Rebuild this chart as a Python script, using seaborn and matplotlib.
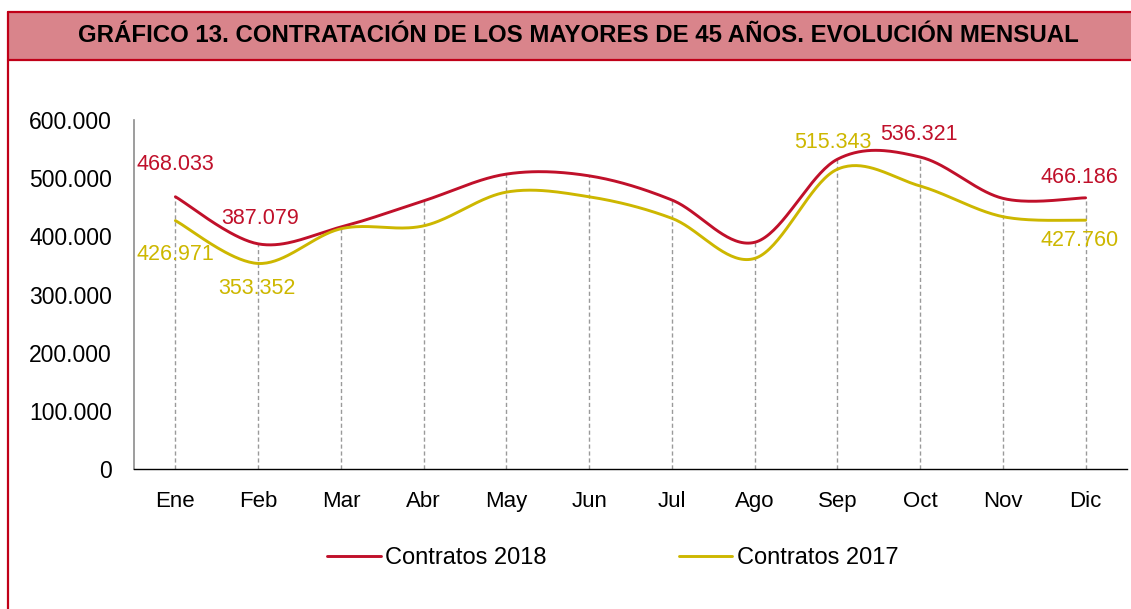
import numpy as np
import pandas as pd
import matplotlib
matplotlib.use("Agg")
import matplotlib.pyplot as plt
from matplotlib.patches import Rectangle
from matplotlib.lines import Line2D
from matplotlib.ticker import FuncFormatter
import seaborn as sns

months = ['Ene', 'Feb', 'Mar', 'Abr', 'May', 'Jun', 'Jul', 'Ago', 'Sep', 'Oct', 'Nov', 'Dic']
contratos_2018 = [468033, 387079, 416000, 461000, 507000, 504000, 462500, 389700, 532500, 536321, 465300, 466186]
contratos_2017 = [426971, 353352, 413000, 418000, 476000, 468000, 431000, 362000, 515343, 486500, 433800, 427760]
series_names = ['Contratos 2018', 'Contratos 2017']
title = 'GRÁFICO 13. CONTRATACIÓN DE LOS MAYORES DE 45 AÑOS. EVOLUCIÓN MENSUAL'

RED = '#C0102A'
YELLOW = '#CDB700'
PINK = '#D9848B'
BORDER = '#C00018'


def smooth(vals, n=40):
    # excel-like smoothed line (catmull-rom as cubic bezier)
    p = np.array(vals, dtype=float)
    x = np.arange(len(p), dtype=float)
    pts = np.column_stack([x, p])
    ext = np.vstack([pts[0], pts, pts[-1]])
    out = []
    t = np.linspace(0, 1, n)[:, None]
    for i in range(len(pts) - 1):
        p0, p1, p2, p3 = ext[i], ext[i + 1], ext[i + 2], ext[i + 3]
        b0 = p1
        b1 = p1 + (p2 - p0) / 6
        b2 = p2 - (p3 - p1) / 6
        b3 = p2
        seg = ((1 - t) ** 3) * b0 + 3 * ((1 - t) ** 2) * t * b1 + 3 * (1 - t) * t ** 2 * b2 + t ** 3 * b3
        out.append(seg if i == 0 else seg[1:])
    out = np.vstack(out)
    return out[:, 0], out[:, 1]


sns.set_style("white")
plt.rcParams['font.family'] = ['Liberation Sans', 'DejaVu Sans']
plt.rcParams['text.color'] = 'black'

fig = plt.figure(figsize=(11.31, 6.09), dpi=100)
W, H = 1131, 609

# frame and title band
fig.patches.append(Rectangle((8 / W, 1 - 60 / H), 1 - 8 / W, 48 / H, transform=fig.transFigure,
                             facecolor=PINK, edgecolor='none', zorder=0))
for xs, ys in [([8 / W, 1], [1 - 12 / H, 1 - 12 / H]),
               ([8 / W, 1], [1 - 60 / H, 1 - 60 / H]),
               ([8 / W, 8 / W], [0, 1 - 12 / H])]:
    fig.lines.append(Line2D(xs, ys, transform=fig.transFigure, color=BORDER, lw=1.6))
fig.text(578 / W, 1 - 36 / H, title, ha='center', va='center', fontsize=17.3,
         fontweight='bold', color='black')

ax = fig.add_axes([134 / W, 1 - 469 / H, (1127 - 134) / W, (469 - 120) / H])

x = np.arange(len(months))
tops = np.maximum(contratos_2018, contratos_2017)
ax.vlines(x, 0, tops, colors='#9a9a9a', linestyles=(0, (3, 2)), lw=1.0, zorder=1)

for vals, name, col in [(contratos_2018, series_names[0], RED), (contratos_2017, series_names[1], YELLOW)]:
    sx, sy = smooth(vals)
    df = pd.DataFrame({'x': sx, 'y': sy})
    sns.lineplot(data=df, x='x', y='y', sort=False, color=col, lw=2.1, ax=ax, label=name, zorder=3)

# data labels: (series, month index, dx px, dy px)
label_spots = [(0, 0, 0, 32), (1, 0, 0, -34), (0, 1, 2, 25), (1, 1, -1, -25),
               (1, 8, -5, 27), (0, 9, -1, 23), (0, 11, -6, 20), (1, 11, -6, -20)]
data = [contratos_2018, contratos_2017]
colors = [RED, YELLOW]
for s, i, dx, dy in label_spots:
    v = data[s][i]
    ax.annotate(f"{v:,}".replace(',', '.'), (x[i], v), xytext=(dx, dy), textcoords='offset pixels',
                ha='center', va='center', fontsize=15.5, color=colors[s], zorder=4)

ax.set_xlim(-0.5, len(months) - 0.5)
ax.set_ylim(0, 600000)
ax.set_yticks(np.arange(0, 600001, 100000))
ax.yaxis.set_major_formatter(FuncFormatter(lambda v, p: f"{int(v):,}".replace(',', '.')))
ax.set_xticks(x)
ax.set_xticklabels(months)
ax.tick_params(axis='y', length=0, pad=16, labelsize=16.5, colors='black')
ax.tick_params(axis='x', length=0, pad=16, labelsize=16, colors='black')
ax.set_xlabel('')
ax.set_ylabel('')
for sp in ['top', 'right']:
    ax.spines[sp].set_visible(False)
ax.spines['left'].set_color('#8c8c8c')
ax.spines['left'].set_linewidth(1.2)
ax.spines['bottom'].set_color('black')
ax.spines['bottom'].set_linewidth(1.0)

leg = ax.legend(loc='center', bbox_to_anchor=(613 / W, 1 - 558 / H), bbox_transform=fig.transFigure,
                ncol=2, frameon=False, fontsize=17, handlelength=2.25, handletextpad=0.2,
                columnspacing=5.6)
for t in leg.get_texts():
    t.set_color('black')

fig.savefig('out.png', dpi=100)
